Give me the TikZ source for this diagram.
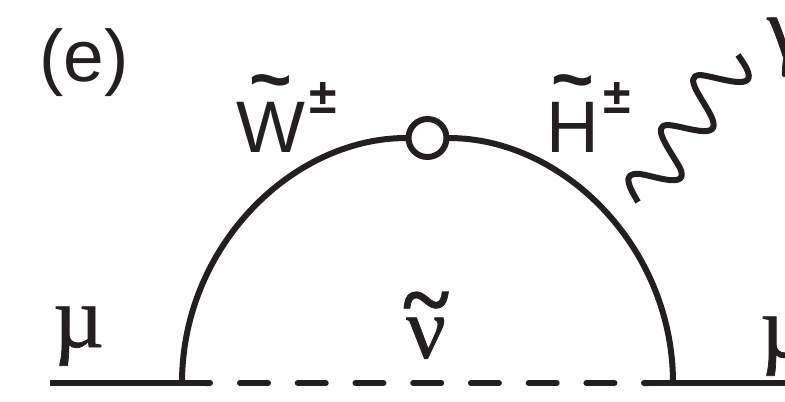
\documentclass[tikz,border=0pt]{standalone}
\usepackage{fontspec}
\setsansfont{Liberation Sans}
\newfontfamily\symf[FakeBold=0.8]{Liberation Serif}
\usetikzlibrary{arrows.meta}
\newcommand{\tildedover}[3]{\ooalign{#1\cr\hidewidth\raisebox{#2}{\fontsize{#3}{#3}\selectfont\bfseries\char`\~}\hidewidth\cr}}
\newcommand{\plusminus}[2]{\kern#1\raisebox{#2}{\fontsize{50}{50}\selectfont\bfseries ±}}
\definecolor{ink}{HTML}{231F20}
\tikzset{
 line/.style={line width=4.5pt,color=ink},
 dashline/.style={line, line cap=round, dash pattern=on 21pt off 22.3pt},
 lab/.style={inner sep=0pt,text=ink,anchor=base west,font=\sffamily\fontsize{73}{73}\selectfont},
 greek/.style={inner sep=0pt,text=ink,anchor=base west,font=\symf\fontsize{88}{88}\selectfont},
 vert/.style={circle,draw=ink,fill=white,line width=4.5pt,minimum size=38pt,inner sep=0pt}
}
\begin{document}
\begin{tikzpicture}[x=0.75pt,y=-0.75pt,every node/.append style={scale=0.75}]
\useasboundingbox (0,0) rectangle (785,401);
\clip (0,0) rectangle (785,401);
\coordinate (L) at (50,383);
\coordinate (A) at (182,383);
\coordinate (Ae) at (213,383);
\coordinate (D1) at (240,383);
\coordinate (D3) at (615.5,383);
\coordinate (D2) at (641,383);
\coordinate (B) at (673,383);
\coordinate (R) at (785,383);
\draw[line,-{Round Cap[]}] (L) -- (Ae);
\draw[dashline] (D1) -- (D3);
\draw[line,{Round Cap[]}-] (D2) -- (R);
\node[vert] (V) at (427.5,138) {};
\draw[line] (A) .. controls (182,247) and (292,138) .. (V);
\draw[line] (B) .. controls (673,247) and (563,138) .. (V);
\node[lab] (e) at (39,81) {(e)};
\node[lab] (W) at (236,152) {\tildedover{W}{48pt}{73pt}\plusminus{4pt}{39pt}};
\node[lab] (H) at (546,152) {\tildedover{H}{48pt}{73pt}\plusminus{5pt}{39pt}};
\node[greek] (m1) at (53,347) {µ};
\node[greek] (m2) at (760,357) {µ};
\node[greek] (n) at (406,358) {\tildedover{ν}{29pt}{88pt}};
\node[greek] (g) at (767,58) {γ};
\coordinate (p1) at (638,202);
\coordinate (p2) at (738,55);
\draw[line,line join=round] (p1) .. controls (630,188) and (620,172) .. (640,174)
 .. controls (655,176) and (690,190) .. (680,168)
 .. controls (670,150) and (650,125) .. (668,125)
 .. controls (685,126) and (722,142) .. (712,118)
 .. controls (704,100) and (682,76) .. (700,75)
 .. controls (715,76) and (755,92) .. (748,72)
 .. controls (746,66) and (742,61) .. (p2);
\end{tikzpicture}
\end{document}
